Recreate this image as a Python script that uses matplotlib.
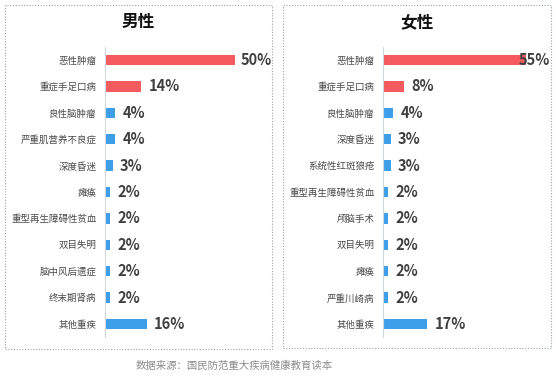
import matplotlib
import matplotlib.pyplot as plt
from matplotlib.patches import Rectangle

plt.rcParams['font.family'] = ['Noto Sans CJK SC', 'DejaVu Sans']

male_labels = ['恶性肿瘤', '重症手足口病', '良性脑肿瘤', '严重肌营养不良症', '深度昏迷', '瘫痪',
               '重型再生障碍性贫血', '双目失明', '脑中风后遗症', '终末期肾病', '其他重疾']
male_values = [50, 14, 4, 4, 3, 2, 2, 2, 2, 2, 16]

female_labels = ['恶性肿瘤', '重症手足口病', '良性脑肿瘤', '深度昏迷', '系统性红斑狼疮',
                 '重型再生障碍性贫血', '颅脑手术', '双目失明', '瘫痪', '严重川崎病', '其他重疾']
female_values = [55, 8, 4, 3, 3, 2, 2, 2, 2, 2, 17]

RED = '#f45b5f'
BLUE = '#3d9ee9'
W, H = 556, 378


def px_rect(x0, y0, x1, y1):
    # pixel box (top-left origin) -> figure fraction [l, b, w, h]
    return [x0 / W, 1 - y1 / H, (x1 - x0) / W, (y1 - y0) / H]


def draw_panel(fig, labels, values, title, box, axis_x):
    bx0, by0, bx1, by1 = box
    fig.patches.append(Rectangle((bx0 / W, 1 - by1 / H), (bx1 - bx0) / W, (by1 - by0) / H,
                                 transform=fig.transFigure, fill=False,
                                 edgecolor='#9aa3b0', lw=0.8, ls=(0, (1, 1.5))))
    fig.text(((bx0 + bx1) / 2) / W, 1 - 22 / H, title, ha='center', va='center',
             fontsize=12, fontweight='bold', color='#111111')

    n = len(values)
    step = 26.4
    top = 60 - step / 2
    scale = 2.6  # px per percent
    xmax = 62
    ax = fig.add_axes(px_rect(axis_x, top, axis_x + xmax * scale, top + n * step))
    ax.set_xlim(0, xmax)
    ax.set_ylim(n - 0.5, -0.5)
    colors = [RED, RED] + [BLUE] * (n - 2)
    ax.barh(range(n), values, height=0.4, color=colors)
    for i, v in enumerate(values):
        tx = min(v + 2.8, 52.3)
        ax.text(tx, i, f'{v}%', ha='left', va='center', fontsize=10.5,
                fontweight='bold', color='#404040')
    ax.set_yticks(range(n))
    ax.set_yticklabels(labels, fontsize=6.8, color='#4a4a4a')
    ax.tick_params(axis='y', length=0, pad=6)
    ax.set_xticks([])
    for s in ['top', 'right', 'bottom']:
        ax.spines[s].set_visible(False)
    ax.spines['left'].set_color('#cfd8e3')
    ax.spines['left'].set_linewidth(0.8)
    ax.patch.set_alpha(0)


def main():
    fig = plt.figure(figsize=(W / 100, H / 100), dpi=100)
    draw_panel(fig, male_labels, male_values, '男性', (5, 5, 272, 349), 105)
    draw_panel(fig, female_labels, female_values, '女性', (283, 5, 551, 348), 383)
    fig.text(234 / W, 1 - 366 / H, '数据来源：国民防范重大疾病健康教育读本', ha='center',
             va='center', fontsize=7.5, color='#8c8c8c')
    fig.savefig('out.png', dpi=100)


if __name__ == '__main__':
    main()
